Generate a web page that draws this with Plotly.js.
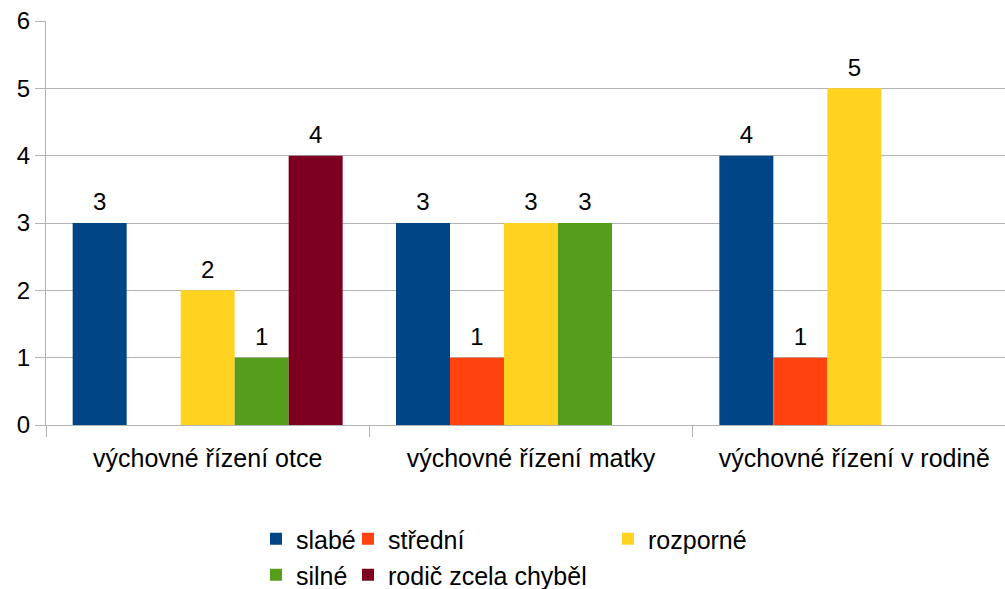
<!DOCTYPE html>
<html>
<head>
<meta charset="utf-8">
<script src="https://cdn.plot.ly/plotly-3.0.1.min.js"></script>
<style>html,body{margin:0;padding:0;background:#fff;}#chart{width:1005px;height:589px;}</style>
</head>
<body>
<div id="chart"></div>
<script>
var categories = ["výchovné řízení otce", "výchovné řízení matky", "výchovné řízení v rodině"];
var seriesNames = ["slabé", "střední", "rozporné", "silné", "rodič zcela chyběl"];
var slabe = [3, 3, 4];
var stredni = [null, 1, 1];
var rozporne = [2, 3, 5];
var silne = [1, 3, null];
var rodic = [4, null, null];
var yTicks = [0, 1, 2, 3, 4, 5, 6];

var values = [slabe, stredni, rozporne, silne, rodic];
var colors = ["#004586", "#ff420e", "#ffd320", "#579d1c", "#7e0021"];
var legendIds = ["legend", "legend2", "legend3", "legend4", "legend5"];
var legendPos = [[256, 539], [348, 539], [608, 539], [256, 575], [348, 575]];
var FONT = "Liberation Sans, Arial, sans-serif";
var GAP = 0.165;

var barTraces = values.map(function (v, i) {
  return {
    type: "bar",
    name: seriesNames[i],
    x: categories,
    y: v,
    marker: { color: colors[i], line: { width: 0 } },
    legend: legendIds[i],
    hoverinfo: "x+y+name"
  };
});

// value labels, grouped the same way as the bars
var labelTraces = values.map(function (v, i) {
  return {
    type: "scatter",
    mode: "markers+text",
    orientation: "v",
    name: seriesNames[i],
    x: categories,
    y: v,
    text: v.map(function (d) { return d === null ? "" : String(d); }),
    textposition: "top center",
    textfont: { family: FONT, size: 24, color: "#000" },
    marker: { size: 9, color: "rgba(0,0,0,0)", line: { width: 0 } },
    cliponaxis: false,
    showlegend: false,
    hoverinfo: "skip"
  };
});

var layout = {
  width: 1005,
  height: 589,
  margin: { l: 46, r: 0, t: 21, b: 164 },
  paper_bgcolor: "#fff",
  plot_bgcolor: "#fff",
  font: { family: FONT, size: 24, color: "#000" },
  barmode: "group",
  bargap: GAP,
  bargroupgap: 0,
  scattermode: "group",
  scattergap: GAP,
  xaxis: {
    type: "category",
    range: [-0.5, 2.466],
    showline: true,
    linecolor: "#b3b3b3",
    linewidth: 1,
    ticks: "outside",
    tickson: "boundaries",
    ticklen: 11,
    tickcolor: "#b3b3b3",
    showgrid: false,
    ticklabelstandoff: 11,
    tickfont: { family: FONT, size: 25, color: "#000" },
    fixedrange: true
  },
  yaxis: {
    range: [0, 6],
    tickvals: yTicks,
    ticktext: yTicks.map(String),
    showline: true,
    linecolor: "#b3b3b3",
    linewidth: 1,
    ticks: "outside",
    ticklen: 10,
    tickcolor: "#b3b3b3",
    showgrid: true,
    gridcolor: "#b3b3b3",
    gridwidth: 1,
    zeroline: false,
    tickfont: { family: FONT, size: 24, color: "#000" },
    fixedrange: true
  },
  showlegend: true
};

legendIds.forEach(function (id, i) {
  layout[id] = {
    xref: "container",
    yref: "container",
    x: legendPos[i][0] / 1005,
    y: 1 - legendPos[i][1] / 589,
    xanchor: "left",
    yanchor: "middle",
    orientation: "h",
    bgcolor: "rgba(0,0,0,0)",
    borderwidth: 0,
    font: { family: FONT, size: 25, color: "#000" },
    itemwidth: 30
  };
});

Plotly.newPlot("chart", barTraces.concat(labelTraces), layout, { staticPlot: true, displayModeBar: false });
</script>
</body>
</html>
